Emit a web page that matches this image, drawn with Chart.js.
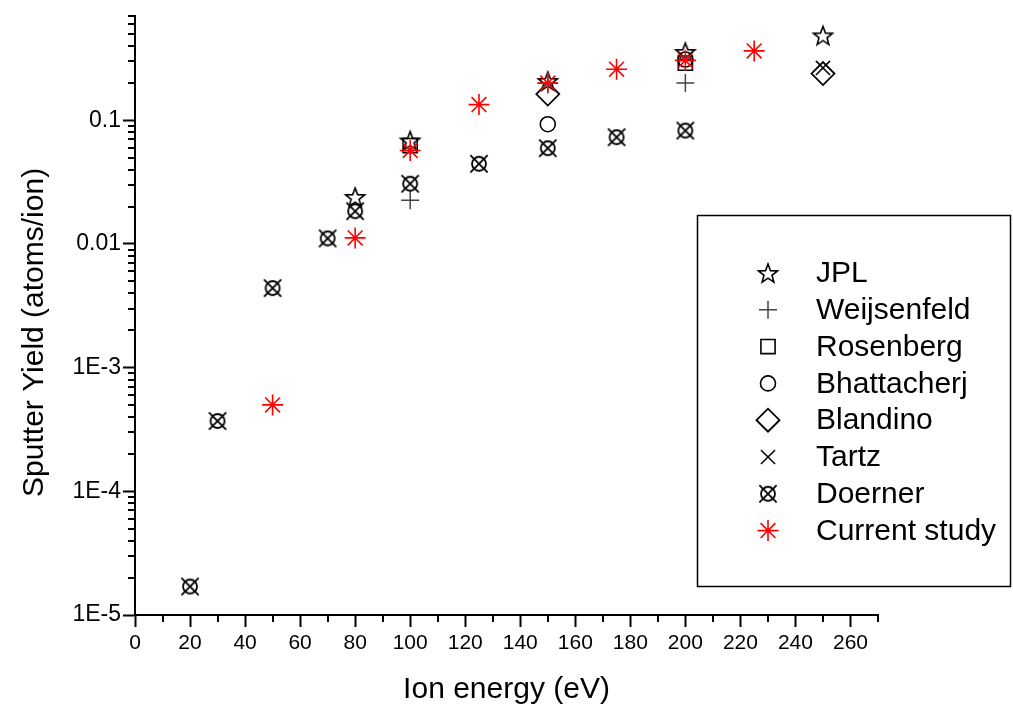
<!DOCTYPE html>
<html>
<head>
<meta charset="utf-8">
<script src="https://cdn.jsdelivr.net/npm/chart.js@4.4.0/dist/chart.umd.min.js"></script>
<style>
  html, body { margin: 0; padding: 0; background: #fff; }
  #wrap { width: 1013px; height: 712px; }
</style>
</head>
<body>
<div id="wrap"><canvas id="myChart" width="1013" height="712"></canvas></div>
<script>
// ion energy (eV) / sputter yield (atoms/ion) for each source
const jplE = [80, 100, 150, 200, 250];
const jplY = [0.024, 0.0687, 0.208, 0.357, 0.486];
const weijE = [100, 150, 200];
const weijY = [0.0226, 0.2, 0.2];
const rosenE = [100, 200];
const rosenY = [0.0625, 0.29];
const bhattE = [150, 200];
const bhattY = [0.093, 0.31];
const blandE = [150, 250];
const blandY = [0.163, 0.239];
const tartzE = [250];
const tartzY = [0.265];
const doernerE = [20, 30, 50, 70, 80, 100, 125, 150, 175, 200];
const doernerY = [1.7e-5, 3.7e-4, 4.4e-3, 0.0111, 0.0184, 0.0307, 0.0445, 0.0595, 0.073, 0.0826];
const studyE = [50, 80, 100, 125, 150, 175, 200, 225];
const studyY = [5e-4, 0.0112, 0.057, 0.134, 0.2, 0.259, 0.305, 0.364];

const seriesNames = ['JPL', 'Weijsenfeld', 'Rosenberg', 'Bhattacherj', 'Blandino', 'Tartz', 'Doerner', 'Current study'];

// axis ticks
const xTickVals = [0, 20, 40, 60, 80, 100, 120, 140, 160, 180, 200, 220, 240, 260];
const yTickVals = [1e-5, 1e-4, 1e-3, 0.01, 0.1];
const yTickLabels = ['1E-5', '1E-4', '1E-3', '0.01', '0.1'];

const FONT = "'Liberation Sans', Arial, Helvetica, sans-serif";

function pts(xs, ys) {
    return xs.map((x, i) => ({x: x, y: ys[i]}));
}

// open five point star marker
function starMarker(r) {
    const c = document.createElement('canvas');
    c.width = c.height = 2 * r + 4;
    const g = c.getContext('2d');
    const cx = r + 2, cy = r + 2, ri = r * 0.42;
    g.beginPath();
    for (let i = 0; i < 10; i++) {
        const a = -Math.PI / 2 + i * Math.PI / 5;
        const rr = i % 2 ? ri : r;
        const px = cx + rr * Math.cos(a), py = cy + rr * Math.sin(a) + 1;
        if (i === 0) g.moveTo(px, py); else g.lineTo(px, py);
    }
    g.closePath();
    g.strokeStyle = '#000';
    g.lineWidth = 1.6;
    g.stroke();
    return c;
}

// circle with a cross through it
function circleCrossMarker(rc, rx) {
    const c = document.createElement('canvas');
    c.width = c.height = 2 * rx + 4;
    const g = c.getContext('2d');
    const m = rx + 2;
    g.strokeStyle = '#000';
    g.lineWidth = 1.8;
    g.beginPath();
    g.arc(m, m, rc, 0, Math.PI * 2);
    g.stroke();
    const d = rx * 0.72;
    g.beginPath();
    g.moveTo(m - d, m + d); g.lineTo(m + d, m - d);
    g.moveTo(m - d, m - d); g.lineTo(m + d, m + d);
    g.stroke();
    return c;
}

const starImg = starMarker(10);
const doernerImg = circleCrossMarker(7, 12);

function ds(i, data, style, radius, color, width) {
    return {
        label: seriesNames[i],
        data: data,
        pointStyle: style,
        pointRadius: radius,
        pointHoverRadius: radius,
        pointBorderColor: color,
        pointBackgroundColor: 'rgba(0,0,0,0)',
        pointBorderWidth: width,
        showLine: false,
        order: 7 - i
    };
}

const datasets = [
    ds(0, pts(jplE, jplY), starImg, 10, '#000', 1.6),
    ds(1, pts(weijE, weijY), 'cross', 9, '#444', 1.5),
    ds(2, pts(rosenE, rosenY), 'rect', 10, '#000', 1.6),
    ds(3, pts(bhattE, bhattY), 'circle', 7.5, '#000', 1.6),
    ds(4, pts(blandE, blandY), 'rectRot', 11.5, '#000', 1.8),
    ds(5, pts(tartzE, tartzY), 'crossRot', 10, '#000', 1.5),
    ds(6, pts(doernerE, doernerY), doernerImg, 12, '#000', 1.8),
    ds(7, pts(studyE, studyY), 'star', 10.5, '#ff0000', 1.6)
];

// minor ticks (10 eV steps, 2..9 per decade) drawn outward from the axes,
// plus the y title, which sits a little below the middle of the axis
const axisExtras = {
    id: 'axisExtras',
    afterDraw(chart) {
        const ctx = chart.ctx;
        const xs = chart.scales.x, ys = chart.scales.y;
        const area = chart.chartArea;
        ctx.save();
        ctx.strokeStyle = '#000';
        ctx.lineWidth = 2;
        ctx.beginPath();
        for (let v = 10; v <= xs.max; v += 20) {
            const px = Math.round(xs.getPixelForValue(v));
            ctx.moveTo(px, area.bottom);
            ctx.lineTo(px, area.bottom + 7);
        }
        for (let e = -5; e <= -1; e++) {
            for (let k = 2; k <= 9; k++) {
                const v = k * Math.pow(10, e);
                if (v > ys.max * 1.0001) continue;
                const py = Math.round(ys.getPixelForValue(v));
                ctx.moveTo(area.left, py);
                ctx.lineTo(area.left - 7, py);
            }
        }
        ctx.stroke();

        ctx.translate(35, (area.top + area.bottom) / 2 + 17);
        ctx.rotate(-Math.PI / 2);
        ctx.font = '30px ' + FONT;
        ctx.fillStyle = '#000';
        ctx.textAlign = 'center';
        ctx.textBaseline = 'middle';
        ctx.fillText('Sputter Yield (atoms/ion)', 0, 0);
        ctx.restore();
    }
};

// boxed legend over the right side of the plot
const boxLegend = {
    id: 'boxLegend',
    afterDraw(chart) {
        const ctx = chart.ctx;
        ctx.save();
        ctx.strokeStyle = '#000';
        ctx.lineWidth = 1.5;
        ctx.strokeRect(697.5, 215.5, 313, 371);
        ctx.font = '30px ' + FONT;
        ctx.textBaseline = 'middle';
        chart.data.datasets.forEach((d, i) => {
            const y = 273 + i * 36.8;
            ctx.fillStyle = '#000';
            ctx.fillText(d.label, 816, y + 1);
            const opts = {
                pointStyle: d.pointStyle,
                radius: d.pointRadius,
                rotation: 0,
                borderWidth: d.pointBorderWidth
            };
            ctx.strokeStyle = d.pointBorderColor;
            ctx.fillStyle = 'rgba(0,0,0,0)';
            ctx.lineWidth = d.pointBorderWidth;
            Chart.helpers.drawPoint(ctx, opts, 768, y);
        });
        ctx.restore();
    }
};

const ctx = document.getElementById('myChart');
new Chart(ctx, {
    type: 'scatter',
    data: {datasets: datasets},
    plugins: [axisExtras, boxLegend],
    options: {
        responsive: false,
        animation: false,
        devicePixelRatio: 1,
        layout: {padding: {top: 13, right: 135, left: 0, bottom: 0}},
        plugins: {legend: {display: false}, tooltip: {enabled: false}},
        scales: {
            x: {
                type: 'linear',
                min: 0,
                max: 270,
                afterBuildTicks: s => { s.ticks = xTickVals.map(v => ({value: v})); },
                afterFit: s => { s.height = 97; },
                border: {display: true, color: '#000', width: 2},
                grid: {display: true, drawOnChartArea: false, drawTicks: true, tickLength: 12,
                       color: '#000', tickColor: '#000', tickWidth: 2},
                ticks: {color: '#000', font: {family: FONT, size: 21}, padding: 4, maxRotation: 0, autoSkip: false},
                title: {display: true, text: 'Ion energy (eV)', color: '#000',
                        font: {family: FONT, size: 30}, padding: {top: 0, bottom: 4}}
            },
            y: {
                type: 'logarithmic',
                min: 1e-5,
                max: 0.7,
                afterBuildTicks: s => { s.ticks = yTickVals.map(v => ({value: v})); },
                afterFit: s => { s.width = 135; },
                border: {display: true, color: '#000', width: 2},
                grid: {display: true, drawOnChartArea: false, drawTicks: true, tickLength: 12,
                       color: '#000', tickColor: '#000', tickWidth: 2},
                ticks: {
                    color: '#000', font: {family: FONT, size: 23}, padding: 2, autoSkip: false,
                    callback: v => {
                        const i = yTickVals.findIndex(t => Math.abs(t - v) / t < 1e-6);
                        return i >= 0 ? yTickLabels[i] : '';
                    }
                }
            }
        }
    }
});
</script>
</body>
</html>
